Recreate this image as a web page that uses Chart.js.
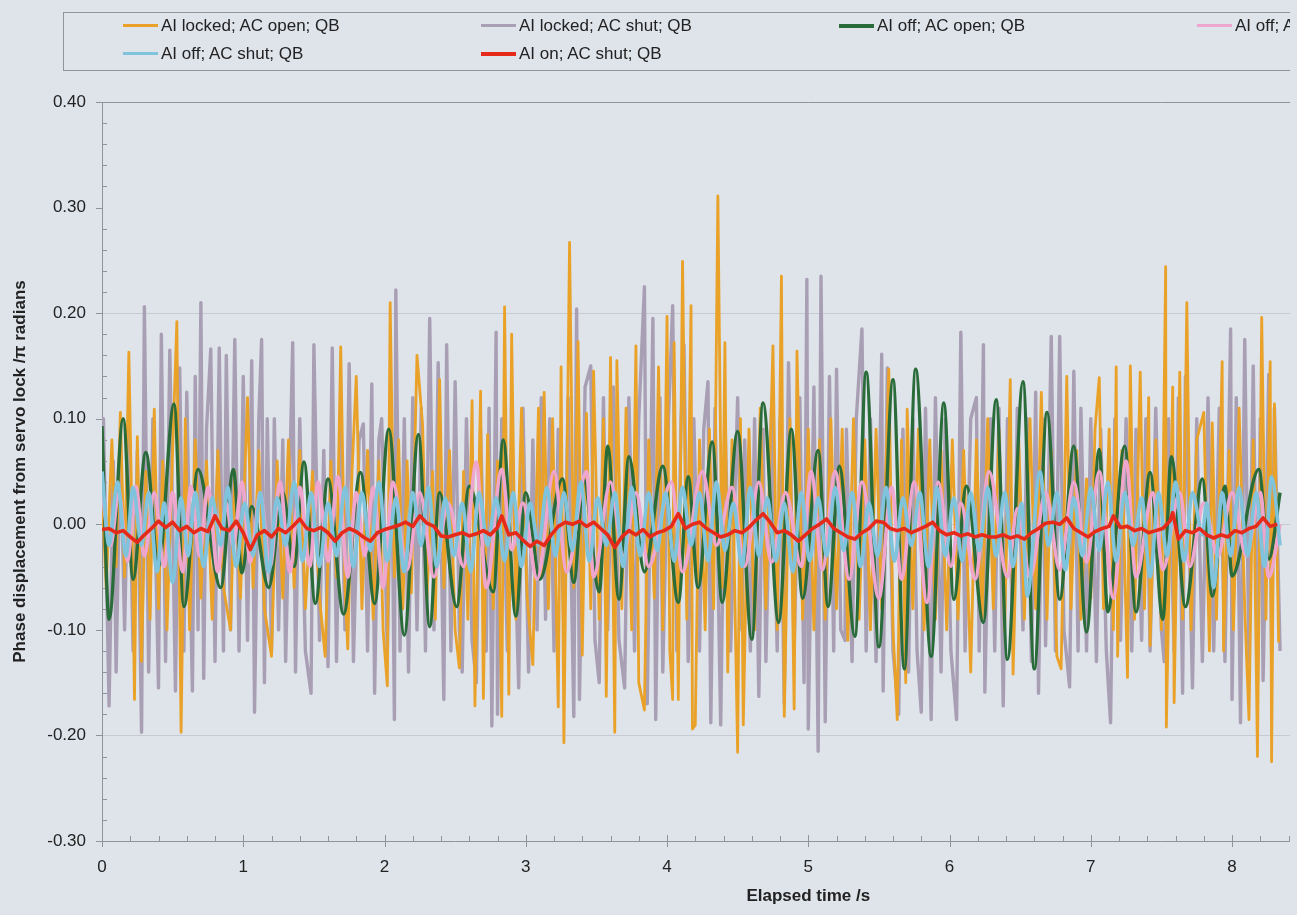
<!DOCTYPE html>
<html>
<head>
<meta charset="utf-8">
<script src="https://cdn.jsdelivr.net/npm/chart.js@4.4.1/dist/chart.umd.min.js"></script>
<style>
  html, body { margin:0; padding:0; background:#dfe3ea; overflow:hidden; }
  #wrap { position:relative; width:1290px; height:915px; overflow:hidden; background:#dfe3ea; }
  #c { position:absolute; left:0; top:0; }
  #legend { position:absolute; left:63px; top:12px; width:1560px; height:59px; border:1px solid #8e939c; box-sizing:border-box;
            font-family:"Liberation Sans", Arial, sans-serif; font-size:17px; color:#222; }
  .item { position:absolute; white-space:nowrap; line-height:20px; height:20px; }
  .swatch { display:inline-block; width:35px; vertical-align:middle; margin-right:3px; position:relative; top:-1px; }
</style>
</head>
<body>
<div id="wrap">
  <canvas id="c" width="1540" height="915"></canvas>
  <div id="legend"></div>
</div>
<script>
// ---- Series labels ----
const seriesLabels = [
  'AI locked; AC open; QB',
  'AI locked; AC shut; QB',
  'AI off; AC open; QB',
  'AI off; AC shut; no QB',
  'AI off; AC shut; QB',
  'AI on; AC shut; QB'
];

// ---- Axis ticks ----
const xTicks = [0,1,2,3,4,5,6,7,8,9,10];
const yTicks = [-0.30,-0.20,-0.10,0.00,0.10,0.20,0.30,0.40];

// ---- Data: [time s, phase / pi rad] ----
const aiLockedAcOpen = [
[0.00,0.03],[0.03,-0.06],[0.07,0.08],[0.10,-0.04],[0.13,0.106],[0.16,-0.05],[0.19,0.163],[0.21,0.02],[0.23,-0.166],[0.25,0.083],
[0.28,-0.13],[0.31,0.05],[0.34,-0.09],[0.37,0.109],[0.40,-0.08],[0.43,0.06],[0.46,-0.10],[0.50,0.07],[0.53,0.192],[0.545,-0.02],
[0.56,-0.197],[0.59,0.10],[0.62,-0.10],[0.66,0.08],[0.70,-0.07],[0.74,0.06],[0.78,-0.09],[0.82,0.07],[0.86,-0.06],[0.91,-0.10],
[0.94,0.05],[0.98,-0.07],[1.03,0.12],[1.07,-0.06],[1.11,0.07],[1.15,-0.08],[1.20,-0.125],[1.24,0.06],[1.28,-0.07],[1.32,0.08],
[1.36,-0.06],[1.40,0.07],[1.44,-0.08],[1.49,0.05],[1.54,-0.07],[1.58,-0.125],[1.62,0.06],[1.66,-0.05],[1.69,0.168],[1.72,-0.06],
[1.74,-0.118],[1.77,0.05],[1.80,0.14],[1.84,-0.08],[1.88,0.07],[1.92,-0.09],[1.96,0.06],[1.99,-0.10],[2.02,-0.153],[2.04,0.21],
[2.07,-0.05],[2.10,0.08],[2.13,-0.08],[2.16,0.06],[2.19,-0.065],[2.23,0.16],[2.27,0.093],[2.30,-0.07],[2.34,0.05],[2.36,-0.09],
[2.39,0.137],[2.42,-0.06],[2.46,0.07],[2.50,-0.10],[2.53,-0.136],[2.56,0.05],[2.59,-0.09],[2.62,0.117],[2.64,-0.172],[2.68,0.126],
[2.70,-0.165],[2.73,0.085],[2.77,-0.08],[2.80,0.06],[2.83,-0.182],[2.85,0.206],[2.88,-0.161],[2.90,0.18],[2.93,-0.09],[2.97,0.11],
[3.01,-0.07],[3.05,-0.133],[3.09,0.11],[3.11,-0.05],[3.13,0.125],[3.16,-0.08],[3.19,0.10],[3.23,-0.173],[3.25,0.149],[3.27,-0.207],
[3.31,0.267],[3.34,-0.06],[3.37,0.173],[3.40,-0.124],[3.43,0.105],[3.46,-0.08],[3.48,0.145],[3.52,-0.09],[3.55,0.10],[3.57,-0.163],
[3.60,0.158],[3.63,-0.197],[3.645,0.155],[3.68,-0.08],[3.71,0.11],[3.75,-0.10],[3.78,0.169],[3.80,-0.15],[3.84,-0.176],[3.87,0.08],
[3.91,-0.07],[3.94,0.149],[3.97,-0.10],[4.00,0.197],[4.02,-0.12],[4.04,-0.166],[4.05,0.172],[4.08,-0.166],[4.11,0.249],[4.14,-0.09],
[4.17,0.207],[4.18,-0.194],[4.20,-0.19],[4.23,0.08],[4.27,-0.10],[4.30,0.09],[4.33,-0.08],[4.36,0.311],[4.39,-0.06],[4.41,0.172],
[4.43,-0.14],[4.46,0.08],[4.50,-0.216],[4.52,0.10],[4.54,-0.19],[4.58,0.09],[4.62,-0.10],[4.66,0.11],[4.70,-0.08],[4.75,0.169],
[4.78,-0.10],[4.81,0.235],[4.83,-0.182],[4.87,0.10],[4.90,-0.175],[4.92,0.164],[4.96,-0.09],[5.00,0.09],[5.04,-0.10],[5.08,0.08],
[5.12,-0.09],[5.16,0.10],[5.20,-0.08],[5.24,0.09],[5.28,-0.11],[5.32,0.10],[5.36,-0.09],[5.40,0.08],[5.44,-0.10],[5.48,0.09],
[5.52,-0.08],[5.57,0.147],[5.60,-0.10],[5.63,-0.185],[5.66,0.08],[5.69,-0.15],[5.70,0.109],[5.74,-0.08],[5.78,0.09],[5.82,-0.10],
[5.86,0.08],[5.90,-0.09],[5.94,0.07],[5.98,-0.10],[6.02,0.08],[6.06,-0.09],[6.10,0.07],[6.15,-0.14],[6.19,0.08],[6.23,-0.09],
[6.27,0.10],[6.31,-0.08],[6.35,0.09],[6.39,-0.10],[6.43,0.137],[6.45,-0.142],[6.49,0.08],[6.53,-0.09],[6.57,0.10],[6.61,-0.08],
[6.65,0.125],[6.69,-0.09],[6.72,0.07],[6.76,-0.125],[6.79,-0.137],[6.83,0.14],[6.86,-0.08],[6.90,0.07],[6.93,-0.09],[6.97,0.043],
[7.00,-0.07],[7.03,0.09],[7.06,0.139],[7.09,-0.08],[7.13,0.09],[7.16,-0.10],[7.18,0.149],[7.19,-0.125],[7.22,0.07],[7.26,-0.145],
[7.28,0.15],[7.31,-0.09],[7.35,0.144],[7.38,-0.08],[7.41,0.12],[7.42,-0.115],[7.46,0.08],[7.50,-0.10],[7.53,0.244],[7.535,-0.192],
[7.58,0.13],[7.59,-0.169],[7.63,0.144],[7.65,-0.09],[7.68,0.21],[7.71,-0.10],[7.75,0.08],[7.80,0.106],[7.84,-0.12],[7.86,0.096],
[7.89,-0.09],[7.93,0.154],[7.94,-0.12],[7.98,0.07],[8.01,-0.10],[8.05,0.11],[8.09,-0.08],[8.12,-0.185],[8.15,0.08],[8.18,-0.22],
[8.21,0.196],[8.24,-0.09],[8.27,0.154],[8.28,-0.225],[8.30,0.114],[8.33,-0.112]
];

const aiLockedAcShut = [
[0.00,0.02],[0.01,0.10],[0.05,-0.172],[0.08,0.06],[0.10,-0.14],[0.13,0.08],[0.16,-0.10],[0.19,0.09],[0.22,-0.12],[0.25,0.07],
[0.28,-0.197],[0.30,0.206],[0.33,-0.14],[0.36,0.10],[0.40,-0.155],[0.42,0.18],[0.45,-0.13],[0.48,0.165],[0.52,-0.158],[0.55,0.148],
[0.58,-0.12],[0.60,0.125],[0.64,-0.158],[0.66,0.14],[0.68,-0.10],[0.70,0.21],[0.72,-0.146],[0.74,0.09],[0.77,0.166],[0.80,-0.13],
[0.83,0.167],[0.86,-0.12],[0.88,0.16],[0.91,-0.10],[0.94,0.175],[0.97,-0.12],[1.00,0.14],[1.03,-0.11],[1.06,0.155],[1.08,-0.178],
[1.11,0.10],[1.13,0.175],[1.15,-0.15],[1.17,0.10],[1.20,-0.12],[1.22,0.10],[1.25,-0.10],[1.28,0.08],[1.30,-0.13],[1.35,0.172],
[1.37,-0.14],[1.40,0.10],[1.44,-0.12],[1.48,-0.16],[1.50,0.17],[1.54,-0.11],[1.57,0.07],[1.60,-0.135],[1.63,0.167],[1.66,-0.13],
[1.69,0.09],[1.72,-0.10],[1.75,0.152],[1.78,-0.13],[1.82,0.08],[1.85,0.095],[1.88,-0.12],[1.91,0.133],[1.93,-0.16],[1.96,0.08],
[1.98,0.10],[2.02,-0.12],[2.05,0.09],[2.07,-0.185],[2.08,0.222],[2.11,-0.12],[2.14,0.10],[2.17,-0.14],[2.20,0.12],[2.23,-0.10],
[2.26,0.11],[2.29,-0.12],[2.32,0.195],[2.35,-0.10],[2.38,0.153],[2.42,-0.166],[2.44,0.17],[2.47,-0.12],[2.50,0.135],[2.53,-0.10],
[2.55,-0.14],[2.58,0.10],[2.62,-0.11],[2.65,-0.15],[2.68,0.09],[2.72,-0.12],[2.74,0.11],[2.76,-0.191],[2.79,0.182],[2.80,-0.18],
[2.83,0.10],[2.87,-0.12],[2.90,0.09],[2.95,-0.155],[2.98,0.11],[3.02,-0.14],[3.05,0.08],[3.08,-0.10],[3.11,0.12],[3.14,-0.09],
[3.17,0.10],[3.20,-0.12],[3.23,0.09],[3.27,-0.10],[3.30,0.12],[3.34,-0.182],[3.36,0.204],[3.38,-0.166],[3.42,0.13],[3.46,0.15],
[3.49,-0.11],[3.52,-0.15],[3.55,0.12],[3.58,-0.10],[3.62,0.13],[3.66,-0.11],[3.70,-0.155],[3.73,0.12],[3.77,-0.12],[3.80,0.10],
[3.84,0.225],[3.86,-0.17],[3.90,0.195],[3.92,-0.185],[3.95,0.12],[3.97,-0.14],[4.01,0.10],[4.04,0.207],[4.07,-0.12],[4.10,0.10],
[4.12,0.17],[4.15,-0.13],[4.19,0.10],[4.23,-0.12],[4.26,0.09],[4.29,0.135],[4.31,-0.188],[4.34,0.11],[4.38,-0.19],[4.41,0.10],
[4.45,-0.12],[4.50,0.12],[4.53,-0.10],[4.55,0.08],[4.59,-0.12],[4.62,0.10],[4.65,-0.163],[4.68,0.09],[4.70,-0.13],[4.74,0.11],
[4.78,-0.12],[4.80,0.10],[4.83,-0.17],[4.86,0.153],[4.90,-0.12],[4.94,0.12],[4.97,-0.15],[4.99,0.232],[5.00,-0.194],[5.04,0.13],
[5.07,-0.215],[5.09,0.235],[5.12,-0.187],[5.15,0.14],[5.18,-0.12],[5.20,0.147],[5.23,-0.10],[5.26,-0.11],[5.27,0.09],[5.31,-0.13],
[5.34,0.10],[5.38,0.185],[5.41,-0.12],[5.44,0.10],[5.48,-0.13],[5.52,0.161],[5.53,-0.158],[5.56,0.148],[5.60,-0.12],[5.64,-0.18],
[5.67,0.09],[5.71,-0.14],[5.74,0.10],[5.77,-0.12],[5.80,-0.178],[5.83,0.11],[5.87,-0.185],[5.90,0.12],[5.94,-0.14],[5.97,0.10],
[6.01,-0.12],[6.05,-0.185],[6.08,0.182],[6.11,-0.12],[6.15,0.10],[6.19,0.12],[6.21,-0.12],[6.24,0.17],[6.25,-0.159],[6.29,0.10],
[6.32,-0.12],[6.35,0.11],[6.38,-0.172],[6.41,0.10],[6.45,-0.12],[6.48,0.11],[6.52,-0.10],[6.55,0.10],[6.58,-0.13],[6.61,0.125],
[6.63,-0.16],[6.66,0.10],[6.68,-0.115],[6.72,0.178],[6.75,-0.12],[6.78,0.178],[6.81,-0.10],[6.85,-0.154],[6.88,0.145],[6.91,-0.12],
[6.93,0.11],[6.97,-0.12],[7.00,0.10],[7.04,-0.13],[7.07,0.09],[7.11,-0.12],[7.14,-0.188],[7.17,0.10],[7.21,-0.11],[7.25,0.10],
[7.29,-0.12],[7.32,0.09],[7.36,-0.11],[7.39,0.10],[7.42,-0.12],[7.46,0.11],[7.50,-0.10],[7.52,-0.13],[7.55,0.10],[7.59,-0.12],
[7.62,0.12],[7.65,-0.16],[7.67,0.14],[7.72,-0.155],[7.75,0.10],[7.79,-0.13],[7.83,0.12],[7.87,-0.12],[7.91,0.11],[7.95,-0.13],
[7.99,0.185],[8.00,-0.166],[8.03,0.12],[8.06,-0.188],[8.09,0.175],[8.12,-0.13],[8.15,0.15],[8.18,-0.15],[8.20,0.10],[8.22,-0.148],
[8.26,0.142],[8.28,-0.12],[8.30,0.11],[8.34,-0.12]
];

const aiOffAcOpen = [
[0.00,0.093],[0.05,-0.09],[0.15,0.10],[0.22,-0.052],[0.31,0.068],[0.40,-0.04],[0.51,0.114],[0.58,-0.078],[0.68,0.052],[0.84,-0.06],
[0.93,0.052],[0.99,-0.046],[1.06,0.017],[1.18,-0.06],[1.28,0.03],[1.36,-0.04],[1.43,0.059],[1.51,-0.075],[1.60,0.043],[1.71,-0.085],
[1.83,0.049],[1.93,-0.075],[2.03,0.09],[2.14,-0.105],[2.24,0.085],[2.32,-0.097],[2.39,0.03],[2.51,-0.078],[2.60,0.036],[2.77,-0.064],
[2.84,0.08],[2.93,-0.087],[3.00,0.03],[3.10,-0.052],[3.26,0.043],[3.34,-0.055],[3.41,0.043],[3.52,-0.064],[3.58,0.074],[3.66,-0.071],
[3.73,0.064],[3.84,-0.045],[3.97,0.055],[4.08,-0.074],[4.15,0.045],[4.22,-0.06],[4.32,0.078],[4.39,-0.074],[4.50,0.088],[4.60,-0.109],
[4.68,0.115],[4.79,-0.093],[4.88,0.09],[4.96,-0.07],[5.07,0.07],[5.14,-0.078],[5.22,0.055],[5.33,-0.106],[5.41,0.144],[5.50,-0.116],
[5.60,0.137],[5.68,-0.137],[5.76,0.147],[5.87,-0.125],[5.96,0.115],[6.03,-0.071],[6.12,0.036],[6.24,-0.093],[6.33,0.118],[6.41,-0.128],
[6.52,0.135],[6.60,-0.137],[6.69,0.106],[6.78,-0.071],[6.88,0.074],[6.97,-0.102],[7.06,0.071],[7.12,-0.083],[7.24,0.074],[7.32,-0.083],
[7.42,0.049],[7.51,-0.09],[7.57,0.064],[7.67,-0.078],[7.79,0.043],[7.86,-0.068],[7.95,0.036],[8.00,-0.049],[8.19,0.052],[8.26,-0.033],
[8.34,0.03]
];

const aiOffAcShutNoQB = [
[0.00,0.03],[0.06,-0.02],[0.12,0.03],[0.18,-0.035],[0.24,0.036],[0.30,-0.03],[0.37,0.03],[0.44,-0.04],[0.50,0.03],[0.57,-0.045],
[0.63,0.036],[0.69,-0.03],[0.75,0.035],[0.82,-0.045],[0.88,0.02],[0.93,-0.02],[0.99,0.04],[1.05,-0.036],[1.12,0.03],[1.19,-0.04],
[1.26,0.04],[1.33,-0.045],[1.40,0.035],[1.47,-0.04],[1.53,0.04],[1.60,-0.035],[1.67,0.045],[1.74,-0.05],[1.80,0.03],[1.86,-0.03],
[1.92,0.035],[1.99,-0.06],[2.06,0.04],[2.16,-0.043],[2.25,0.03],[2.35,-0.05],[2.45,0.02],[2.56,-0.04],[2.65,0.059],[2.72,-0.06],
[2.83,0.052],[2.90,-0.024],[2.98,0.02],[3.08,-0.052],[3.20,0.05],[3.29,-0.045],[3.43,0.05],[3.48,-0.05],[3.60,0.04],[3.69,-0.03],
[3.78,0.03],[3.87,-0.04],[4.03,0.04],[4.11,-0.045],[4.25,0.05],[4.35,-0.02],[4.46,0.035],[4.55,-0.04],[4.65,0.04],[4.74,-0.036],
[4.84,0.03],[4.95,-0.04],[5.02,0.05],[5.10,-0.043],[5.19,0.05],[5.29,-0.052],[5.38,0.04],[5.50,-0.07],[5.59,0.035],[5.66,-0.052],
[5.75,0.04],[5.84,-0.074],[5.92,0.04],[6.01,-0.04],[6.08,0.02],[6.18,-0.052],[6.28,0.05],[6.41,-0.05],[6.48,0.015],[6.57,-0.05],
[6.68,0.03],[6.78,-0.043],[6.88,0.04],[6.97,-0.036],[7.06,0.05],[7.16,-0.07],[7.25,0.06],[7.32,-0.05],[7.44,0.03],[7.51,-0.043],
[7.63,0.03],[7.70,-0.04],[7.80,0.02],[7.90,-0.03],[8.00,0.03],[8.10,-0.03],[8.20,0.03],[8.26,-0.05],[8.34,0.0]
];

const aiOffAcShut = [
[0.00,0.05],[0.05,-0.02],[0.11,0.04],[0.17,-0.03],[0.22,0.035],[0.28,-0.02],[0.33,0.03],[0.39,-0.045],[0.44,0.02],[0.50,-0.055],
[0.56,0.025],[0.61,-0.03],[0.66,0.03],[0.72,-0.04],[0.78,0.025],[0.84,-0.02],[0.89,0.035],[0.95,-0.04],[1.01,0.02],[1.07,-0.03],
[1.12,0.03],[1.18,-0.045],[1.24,0.025],[1.30,-0.02],[1.36,0.04],[1.42,-0.035],[1.48,0.03],[1.54,-0.04],[1.60,0.02],[1.66,-0.03],
[1.72,0.035],[1.78,-0.04],[1.84,0.03],[1.90,-0.025],[1.96,0.04],[2.02,-0.035],[2.08,0.025],[2.14,-0.045],[2.20,0.03],[2.26,-0.02],
[2.31,0.035],[2.37,-0.04],[2.43,0.025],[2.49,-0.03],[2.55,0.02],[2.61,-0.045],[2.67,0.03],[2.73,-0.02],[2.79,0.025],[2.85,-0.035],
[2.91,0.03],[2.97,-0.04],[3.03,0.02],[3.09,-0.02],[3.15,0.035],[3.21,-0.03],[3.27,0.03],[3.33,-0.025],[3.39,0.04],[3.45,-0.035],
[3.51,0.025],[3.57,-0.02],[3.63,0.03],[3.69,-0.04],[3.75,0.035],[3.81,-0.03],[3.87,0.03],[3.93,-0.025],[3.99,0.03],[4.05,-0.035],
[4.11,0.035],[4.17,-0.02],[4.23,0.03],[4.29,-0.035],[4.35,0.04],[4.41,-0.025],[4.47,0.02],[4.53,-0.04],[4.59,0.035],[4.65,-0.03],
[4.71,0.025],[4.77,-0.035],[4.83,0.02],[4.89,-0.045],[4.95,0.03],[5.01,-0.035],[5.07,0.025],[5.13,-0.03],[5.19,0.035],[5.25,-0.025],
[5.31,0.03],[5.37,-0.04],[5.43,0.02],[5.49,-0.03],[5.55,0.035],[5.61,-0.035],[5.67,0.025],[5.73,-0.02],[5.79,0.03],[5.85,-0.04],
[5.91,0.035],[5.97,-0.03],[6.03,0.025],[6.09,-0.035],[6.15,0.03],[6.21,-0.025],[6.27,0.035],[6.33,-0.03],[6.39,0.03],[6.45,-0.04],
[6.51,0.02],[6.55,-0.068],[6.64,0.05],[6.70,-0.02],[6.76,0.03],[6.82,-0.043],[6.88,0.025],[6.94,-0.03],[7.00,0.035],[7.06,-0.025],
[7.12,0.04],[7.18,-0.035],[7.24,0.03],[7.30,-0.02],[7.36,0.025],[7.42,-0.05],[7.48,0.03],[7.54,-0.03],[7.60,0.04],[7.66,-0.035],
[7.72,0.03],[7.79,-0.01],[7.82,0.02],[7.87,-0.06],[7.93,0.03],[7.99,-0.03],[8.05,0.035],[8.11,-0.03],[8.17,0.03],[8.23,-0.04],
[8.28,0.045],[8.34,-0.02]
];

const aiOnAcShut = [
[0.00,-0.005],[0.05,-0.004],[0.10,-0.008],[0.15,-0.006],[0.20,-0.012],[0.25,-0.017],[0.30,-0.01],[0.35,-0.004],[0.40,0.003],[0.45,-0.003],
[0.50,0.002],[0.55,-0.006],[0.60,-0.002],[0.65,-0.008],[0.70,-0.004],[0.75,-0.007],[0.80,0.008],[0.85,-0.004],[0.90,-0.006],[0.95,0.003],
[1.00,-0.008],[1.05,-0.024],[1.10,-0.01],[1.15,-0.006],[1.20,-0.012],[1.25,-0.004],[1.30,-0.008],[1.35,-0.002],[1.40,0.005],[1.45,-0.004],
[1.50,-0.006],[1.55,-0.003],[1.60,-0.008],[1.65,-0.016],[1.70,-0.008],[1.75,-0.004],[1.80,-0.007],[1.85,-0.012],[1.90,-0.016],[1.95,-0.008],
[2.00,-0.005],[2.05,-0.003],[2.10,-0.001],[2.15,0.002],[2.20,-0.002],[2.25,0.008],[2.30,0.001],[2.35,-0.002],[2.40,-0.011],[2.45,-0.012],
[2.50,-0.01],[2.55,-0.008],[2.60,-0.011],[2.65,-0.009],[2.70,-0.006],[2.75,-0.01],[2.80,-0.003],[2.83,0.008],[2.88,-0.01],[2.93,-0.008],
[2.98,-0.015],[3.03,-0.021],[3.08,-0.016],[3.13,-0.02],[3.18,-0.01],[3.23,-0.002],[3.28,0.002],[3.33,0.0],[3.38,0.003],[3.43,-0.002],
[3.48,0.002],[3.53,-0.004],[3.58,-0.01],[3.63,-0.022],[3.68,-0.012],[3.73,-0.006],[3.78,-0.01],[3.83,-0.005],[3.88,-0.012],[3.93,-0.008],
[3.98,-0.006],[4.03,-0.002],[4.08,0.01],[4.13,-0.004],[4.18,0.0],[4.23,0.002],[4.28,-0.004],[4.33,-0.008],[4.38,-0.012],[4.43,-0.01],
[4.48,-0.006],[4.53,-0.008],[4.58,-0.003],[4.63,0.004],[4.68,0.01],[4.73,0.002],[4.78,-0.008],[4.83,-0.006],[4.88,-0.01],[4.93,-0.016],
[4.98,-0.01],[5.03,-0.004],[5.08,0.0],[5.13,0.005],[5.18,-0.004],[5.23,-0.008],[5.28,-0.012],[5.33,-0.014],[5.38,-0.008],[5.43,-0.004],
[5.48,0.003],[5.53,0.002],[5.58,-0.004],[5.63,-0.006],[5.68,-0.004],[5.73,-0.008],[5.78,-0.005],[5.83,-0.002],[5.88,0.002],[5.93,-0.006],
[5.98,-0.01],[6.03,-0.008],[6.08,-0.011],[6.13,-0.009],[6.18,-0.012],[6.23,-0.01],[6.28,-0.012],[6.33,-0.012],[6.38,-0.01],[6.43,-0.013],
[6.48,-0.011],[6.53,-0.014],[6.58,-0.008],[6.63,-0.004],[6.68,0.001],[6.73,0.002],[6.78,0.0],[6.83,0.006],[6.88,-0.004],[6.93,-0.008],
[6.98,-0.012],[7.03,-0.007],[7.08,-0.004],[7.13,-0.002],[7.16,0.008],[7.21,-0.003],[7.26,-0.002],[7.31,-0.006],[7.36,-0.004],[7.41,-0.008],
[7.46,-0.006],[7.51,-0.004],[7.56,0.003],[7.58,0.011],[7.62,-0.014],[7.67,-0.006],[7.72,-0.008],[7.77,-0.004],[7.82,-0.01],[7.87,-0.013],
[7.92,-0.01],[7.97,-0.012],[8.02,-0.006],[8.07,-0.008],[8.12,-0.004],[8.17,-0.002],[8.22,0.006],[8.27,-0.002],[8.32,0.0]
];

// ---- Styles ----
const seriesColors = ['#e9a128','#a99fb5','#2a6b3a','#eea6cf','#7fc3dc','#e52a1a'];
const seriesWidths = [2.8, 3.4, 3.4, 3.6, 3.6, 3.6];
const seriesOrder  = [4, 5, 3, 2, 1, 0];   // lower = drawn on top
const seriesSmooth = [false, false, true, true, true, false];
const allSeries = [aiLockedAcOpen, aiLockedAcShut, aiOffAcOpen, aiOffAcShutNoQB, aiOffAcShut, aiOnAcShut];

const datasets = allSeries.map((s, i) => ({
  label: seriesLabels[i],
  data: s.map(p => ({x: p[0], y: p[1]})),
  borderColor: seriesColors[i],
  backgroundColor: seriesColors[i],
  borderWidth: seriesWidths[i],
  pointRadius: 0,
  fill: false,
  order: seriesOrder[i],
  cubicInterpolationMode: seriesSmooth[i] ? 'monotone' : 'default',
  tension: 0,
  borderJoinStyle: 'round'
}));

// ---- HTML legend ----
const legend = document.getElementById('legend');
const legendCols = [59, 417, 775, 1133];
const legendRows = [3, 31];
seriesLabels.forEach((lab, i) => {
  const d = document.createElement('div');
  d.className = 'item';
  d.style.left = legendCols[i % 4] + 'px';
  d.style.top = legendRows[Math.floor(i / 4)] + 'px';
  const sw = document.createElement('span');
  sw.className = 'swatch';
  sw.style.height = (i === 2 || i === 5 ? 4 : 3) + 'px';
  sw.style.background = seriesColors[i];
  d.appendChild(sw);
  d.appendChild(document.createTextNode(lab));
  legend.appendChild(d);
});

// ---- Tick marks plugin ----
const tickMarks = {
  id: 'tickMarks',
  beforeDatasetsDraw(chart) {
    const {ctx, scales: {x, y}} = chart;
    ctx.save();
    ctx.strokeStyle = '#8e939c';
    ctx.lineWidth = 1;
    ctx.beginPath();
    const yMin = yTicks[0], yMax = yTicks[yTicks.length - 1];
    const nY = Math.round((yMax - yMin) / 0.02);
    for (let k = 0; k <= nY; k++) {
      const py = Math.round(y.getPixelForValue(yMin + k * 0.02)) + 0.5;
      if (k % 5 === 0) { ctx.moveTo(x.left - 6, py); ctx.lineTo(x.left, py); }
      else { ctx.moveTo(x.left, py); ctx.lineTo(x.left + 5, py); }
    }
    const nX = Math.round((xTicks[xTicks.length - 1] - xTicks[0]) / 0.2);
    for (let k = 0; k <= nX; k++) {
      const px = Math.round(x.getPixelForValue(xTicks[0] + k * 0.2)) + 0.5;
      if (k % 5 === 0) { ctx.moveTo(px, y.bottom - 6); ctx.lineTo(px, y.bottom + 6); }
      else { ctx.moveTo(px, y.bottom - 5); ctx.lineTo(px, y.bottom); }
    }
    ctx.stroke();
    ctx.restore();
  }
};

const fontFam = '"Liberation Sans", Arial, sans-serif';

new Chart(document.getElementById('c'), {
  type: 'line',
  data: { datasets },
  options: {
    responsive: false,
    animation: false,
    events: [],
    layout: { padding: { top: 102, right: 18, left: 0, bottom: 0 } },
    plugins: { legend: { display: false }, tooltip: { enabled: false } },
    scales: {
      x: {
        type: 'linear',
        min: xTicks[0], max: xTicks[xTicks.length - 1],
        afterBuildTicks: (s) => { s.ticks = xTicks.map(v => ({value: v})); },
        afterFit: (s) => { s.height = 74; },
        grid: { display: false, drawTicks: false },
        border: { display: true, color: '#8e939c', width: 1 },
        ticks: { font: { family: fontFam, size: 17 }, color: '#222', padding: 16, maxRotation: 0,
                 callback: (v) => String(v) },
        title: { display: true, text: 'Elapsed time /s', color: '#222',
                 font: { family: fontFam, size: 17, weight: 'bold' }, padding: { top: 0, bottom: 8 } }
      },
      y: {
        type: 'linear',
        min: yTicks[0], max: yTicks[yTicks.length - 1],
        afterBuildTicks: (s) => { s.ticks = yTicks.map(v => ({value: v})); },
        afterFit: (s) => { s.width = 102; },
        grid: {
          drawTicks: false,
          color: (c) => {
            const v = Math.round(c.tick.value * 10);
            if (v === 4) return '#8e939c';
            return (Math.abs(v) % 2 === 0) ? '#c6cad2' : 'rgba(0,0,0,0)';
          },
          lineWidth: 1
        },
        border: { display: true, color: '#8e939c', width: 1 },
        ticks: { font: { family: fontFam, size: 17 }, color: '#222', padding: 16,
                 callback: (v) => Number(v).toFixed(2) },
        title: { display: true, text: 'Phase displacement from servo lock /\u03C0 radians', color: '#222',
                 font: { family: fontFam, size: 17, weight: 'bold' }, padding: { top: 10, bottom: 0 } }
      }
    }
  },
  plugins: [tickMarks]
});
</script>
</body>
</html>
